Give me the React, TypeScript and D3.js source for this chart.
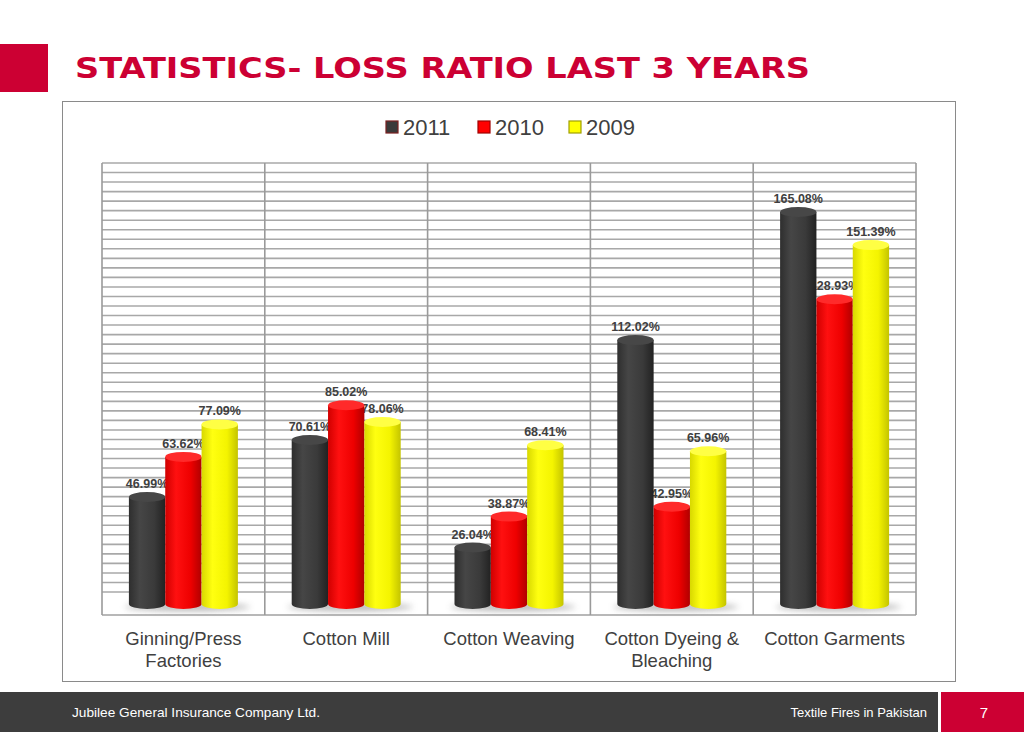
import React from "react";
import * as d3 from "d3";

const categories = ["Ginning/Press\nFactories", "Cotton Mill", "Cotton Weaving", "Cotton Dyeing &\nBleaching", "Cotton Garments"];
const seriesNames = ["2011", "2010", "2009"];
const values2011 = [46.99, 70.61, 26.04, 112.02, 165.08];
const values2010 = [63.62, 85.02, 38.87, 42.95, 128.93];
const values2009 = [77.09, 78.06, 68.41, 65.96, 151.39];
const gridTicks = d3.range(0, 181, 4);

const seriesValues = [values2011, values2010, values2009];
const seriesFill = [
  { id: "g2011", stops: ["#2e2e2e", "#464646", "#3a3a3a", "#222222"], top: "#474747", sw: "#3a3a3a", swStroke: "#7a2020" },
  { id: "g2010", stops: ["#d00000", "#ff1010", "#ee0000", "#b00000"], top: "#ff2a2a", sw: "#ff0000", swStroke: "#a00000" },
  { id: "g2009", stops: ["#d8d800", "#ffff10", "#f4f400", "#c4c400"], top: "#ffff44", sw: "#ffff00", swStroke: "#a0a000" },
];

export default function App() {
  const W = 1024, H = 732;
  const plotL = 102, plotR = 916, plotT = 163, plotB = 615;
  const x = d3.scaleBand<string>().domain(categories).range([plotL, plotR]).paddingInner(0).paddingOuter(0);
  const groupW = 109;
  const xs = d3.scaleBand<string>().domain(seriesNames).range([0, groupW]).padding(0);
  const y = d3.scaleLinear().domain([0, 180]).range([610.4, 610.4 - 180 * 2.413]);
  const yWall = d3.scaleLinear().domain([0, 180]).range([592, plotT]);
  const baseY = 604;
  const ry = 5;
  const bw = xs.bandwidth();
  const textCol = "#404040";

  const bars: any[] = [];
  categories.forEach((c, ci) => {
    seriesNames.forEach((s, si) => {
      const v = seriesValues[si][ci];
      const x0 = (x(c) as number) + (x.bandwidth() - groupW) / 2 + (xs(s) as number);
      bars.push({ c, ci, s, si, v, x0, cx: x0 + bw / 2, ty: y(v) });
    });
  });

  return (
    <svg width={W} height={H} style={{ position: "absolute", left: 0, top: 0, background: "#fff" }} fontFamily="'Liberation Sans', Arial, sans-serif">
      <defs>
        {seriesFill.map((f) => (
          <linearGradient key={f.id} id={f.id} x1="0" x2="1" y1="0" y2="0">
            <stop offset="0" stopColor={f.stops[0]} />
            <stop offset="0.3" stopColor={f.stops[1]} />
            <stop offset="0.7" stopColor={f.stops[2]} />
            <stop offset="1" stopColor={f.stops[3]} />
          </linearGradient>
        ))}
        <filter id="blur" x="-50%" y="-200%" width="200%" height="500%">
          <feGaussianBlur stdDeviation="3" />
        </filter>
      </defs>

      {/* title */}
      <rect x={0} y={44} width={48} height={48} fill="#cc0033" />
      <text x={75} y={78} fill="#cc0033" fontFamily="'DejaVu Sans', Verdana, sans-serif" fontWeight="bold" fontSize={28} textLength={735} lengthAdjust="spacingAndGlyphs">
        STATISTICS- LOSS RATIO LAST 3 YEARS
      </text>

      {/* chart frame */}
      <rect x={62.5} y={101.5} width={893} height={580} fill="#fff" stroke="#8a8a8a" strokeWidth={1} />

      {/* legend */}
      {seriesNames.map((s, i) => {
        const lx = [386, 478, 569][i];
        return (
          <g key={s}>
            <rect x={lx} y={121} width={12} height={12} fill={seriesFill[i].sw} stroke={seriesFill[i].swStroke} strokeWidth={1.2} />
            <text x={lx + 17} y={135} fontSize={22} fill={textCol}>{s}</text>
          </g>
        );
      })}

      {/* back wall grid */}
      {gridTicks.map((t) => (
        <line key={t} x1={plotL} x2={plotR} y1={yWall(t)} y2={yWall(t)} stroke="#a8a8a8" strokeWidth={1.6} />
      ))}
      <line x1={plotL} x2={plotR} y1={plotB} y2={plotB} stroke="#a0a0a0" strokeWidth={1.6} />
      {[...categories.map((c) => x(c) as number), plotR].map((vx, i) => (
        <line key={i} x1={vx} x2={vx} y1={plotT} y2={plotB} stroke="#9a9a9a" strokeWidth={1.6} />
      ))}

      {/* shadows */}
      {categories.map((c) => {
        const cx = (x(c) as number) + x.bandwidth() / 2;
        return <ellipse key={c} cx={cx + 4} cy={baseY + 3} rx={groupW / 2 + 8} ry={4} fill="#9a9a9a" opacity={0.7} filter="url(#blur)" />;
      })}

      {/* value labels (drawn beneath bars) */}
      {bars.map((b) => (
        <text key={"l" + b.ci + b.si} x={b.cx} y={b.ty - ry - 4} textAnchor="middle" fontSize={12.5} fontWeight="bold" fill={textCol}>
          {d3.format(".2f")(b.v)}%
        </text>
      ))}

      {/* cylinders */}
      {bars.map((b) => {
        const f = seriesFill[b.si];
        const r = bw / 2;
        return (
          <g key={"b" + b.ci + b.si}>
            <path
              d={`M${b.x0},${b.ty} L${b.x0},${baseY} A${r},${ry} 0 0 0 ${b.x0 + bw},${baseY} L${b.x0 + bw},${b.ty} Z`}
              fill={`url(#${f.id})`}
            />
            <ellipse cx={b.cx} cy={b.ty} rx={r} ry={ry} fill={f.top} />
          </g>
        );
      })}

      {/* category labels */}
      {categories.map((c) => {
        const lines = c.split("\n");
        const cx = (x(c) as number) + x.bandwidth() / 2;
        return (
          <text key={c} x={cx} y={645} textAnchor="middle" fontSize={18.5} fill={textCol}>
            {lines.map((ln, i) => (
              <tspan key={i} x={cx} dy={i === 0 ? 0 : 22}>{ln}</tspan>
            ))}
          </text>
        );
      })}

      {/* footer */}
      <rect x={0} y={692} width={938} height={40} fill="#3d3d3d" />
      <rect x={941} y={692} width={83} height={40} fill="#cc0033" />
      <text x={72} y={717} fontSize={13} fill="#fff" fontFamily="'Liberation Sans Narrow', 'Arial Narrow', 'Liberation Sans', sans-serif" textLength={248} lengthAdjust="spacingAndGlyphs">
        Jubilee General Insurance Company  Ltd.
      </text>
      <text x={927} y={717} fontSize={13} fill="#fff" textAnchor="end" fontFamily="'Liberation Sans Narrow', 'Arial Narrow', 'Liberation Sans', sans-serif">
        Textile Fires in Pakistan
      </text>
      <text x={984} y={718} fontSize={15} fill="#fff" textAnchor="middle">7</text>
    </svg>
  );
}
